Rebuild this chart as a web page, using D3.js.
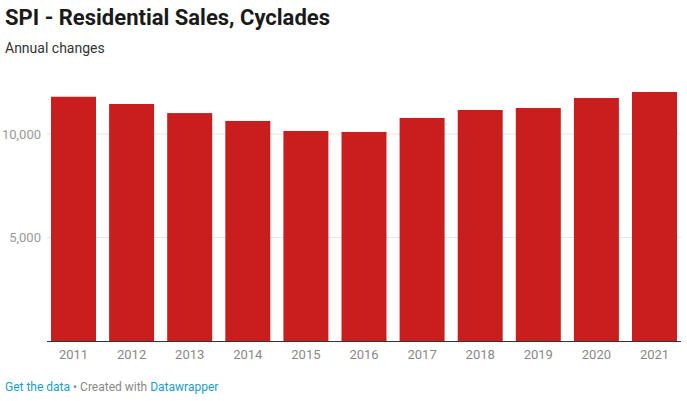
<!DOCTYPE html>
<html><head><meta charset="utf-8">
<script src="https://cdn.jsdelivr.net/npm/d3@7"></script>
<style>
body{margin:0;background:#fff;font-family:Roboto,"Noto Sans",sans-serif;}
</style></head>
<body><svg id="c" width="687" height="401"></svg>
<script>
const years = ["2011","2012","2013","2014","2015","2016","2017","2018","2019","2020","2021"];
const values = [11800,11450,11010,10630,10145,10100,10775,11160,11255,11740,12030];
const yTicks = [5000,10000];

const svg = d3.select("#c");
const x = d3.scaleBand().domain(years).range([51,677]).paddingInner(0.2255).paddingOuter(0);
const y = d3.scaleLinear().domain([0,10000]).range([341,134]);

svg.append("text").attr("x",5).attr("y",25).attr("font-size",22).attr("font-weight",700).attr("fill","#1a1a1a").text("SPI - Residential Sales, Cyclades");
svg.append("text").attr("x",5).attr("y",53).attr("font-size",14).attr("fill","#333").text("Annual changes");

const grid = svg.append("g");
yTicks.forEach(t=>{
  grid.append("line").attr("x1",47).attr("x2",681).attr("y1",y(t)).attr("y2",y(t)).attr("stroke","#e6e6e6").attr("stroke-width",1);
  grid.append("text").attr("x",41).attr("y",y(t)+4.5).attr("text-anchor","end").attr("font-size",13).attr("fill","#999").text(d3.format(",")(t));
});

svg.append("g").selectAll("rect").data(values).join("rect")
  .attr("x",(d,i)=>x(years[i])).attr("width",x.bandwidth())
  .attr("y",d=>y(d)).attr("height",d=>y(0)-y(d)).attr("fill","#c81e1e");

svg.append("line").attr("x1",47).attr("x2",681).attr("y1",341.5).attr("y2",341.5).attr("stroke","#333").attr("stroke-width",1);

const xAxis = d3.axisBottom(x).tickSize(0).tickPadding(8);
const gx = svg.append("g").attr("transform","translate(0,342)").call(xAxis);
gx.select(".domain").remove();
gx.selectAll("text").attr("font-size",13).attr("fill","#888").attr("font-family","Roboto,sans-serif");

const f = svg.append("text").attr("x",5).attr("y",391).attr("font-size",12);
f.append("tspan").attr("fill","#1d9bc8").text("Get the data");
f.append("tspan").attr("fill","#888").text(" • Created with ");
f.append("tspan").attr("fill","#1d9bc8").text("Datawrapper");
</script></body></html>
